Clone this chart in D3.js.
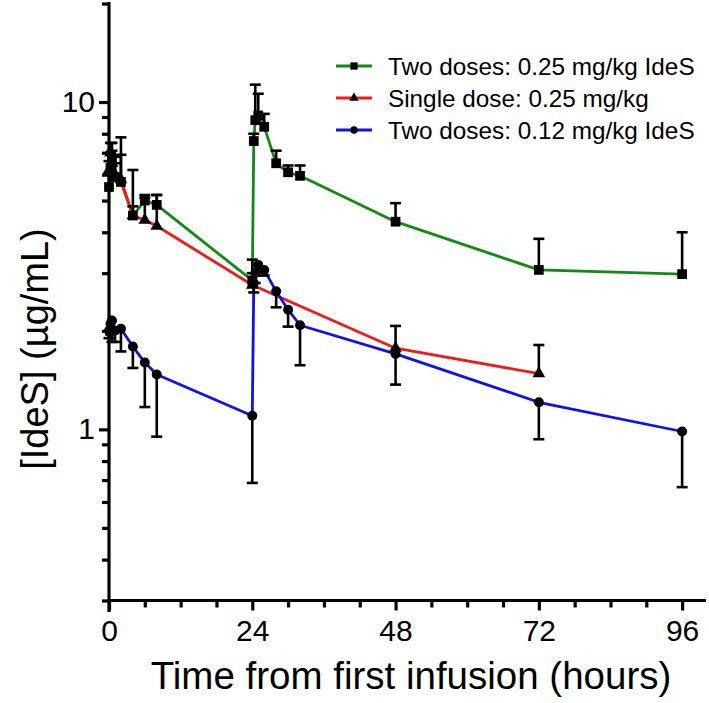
<!DOCTYPE html>
<html>
<head>
<meta charset="utf-8">
<script src="https://cdn.jsdelivr.net/npm/d3@7"></script>
<style>
  html, body { margin: 0; padding: 0; background: #fff; }
  svg { display: block; font-family: "Liberation Sans", Arial, Helvetica, sans-serif; }
</style>
</head>
<body>
<svg id="chart" width="709" height="703"></svg>
<script>
// ---- Data ----
const seriesNames = ["Two doses: 0.25 mg/kg IdeS", "Single dose: 0.25 mg/kg", "Two doses: 0.12 mg/kg IdeS"];
const seriesColors = ["#138a13", "#f01a1a", "#1010f0"];

const greenTimes = [0, 0.25, 0.5, 1, 2, 4, 6, 8, 24, 24.25, 24.5, 25, 26, 28, 30, 32, 48, 72, 96];
const greenValues = [5.5, 6.3, 6.7, 5.9, 5.7, 4.5, 5.0, 4.85, 2.85, 7.6, 8.8, 9.1, 8.4, 6.5, 6.1, 5.95, 4.31, 3.07, 2.98];
const greenErrEnd = [6.0, 7.0, 7.5, 6.8, 7.8, 6.2, 5.2, 5.2, 3.3, 8.0, 11.3, 10.6, 9.2, 7.1, 6.4, 6.4, 4.91, 3.82, 4.00];

const redTimes = [0, 0.25, 0.5, 1, 2, 4, 6, 8, 24, 48, 72];
const redValues = [6.2, 7.0, 6.5, 6.0, 5.8, 4.5, 4.36, 4.18, 2.76, 1.77, 1.48];
const redErrEnd = [6.6, 7.5, 7.1, 6.5, 6.9, 4.8, 5.1, 5.2, 3.0, 2.07, 1.81];

const blueTimes = [0, 0.25, 0.5, 1, 2, 4, 6, 8, 24, 24.25, 24.5, 25, 26, 28, 30, 32, 48, 72, 96];
const blueValues = [2.0, 2.1, 2.15, 2.0, 2.03, 1.79, 1.60, 1.47, 1.10, 2.8, 3.0, 3.18, 3.07, 2.64, 2.32, 2.08, 1.70, 1.21, 0.985];
const blueErrEnd = [1.9, 1.95, 1.85, 1.85, 1.73, 1.54, 1.17, 0.95, 0.686, 2.62, 2.8, 3.0, 2.95, 2.36, 2.06, 1.57, 1.37, 0.933, 0.666];

const xTickValues = [0, 24, 48, 72, 96];
const xMinorTicks = [6, 12, 18, 30, 36, 42, 54, 60, 66, 78, 84, 90];
const yTickValues = [1, 10];
const yMinorTicks = [0.3, 0.4, 0.5, 0.6, 0.7, 0.8, 0.9, 2, 3, 4, 5, 6, 7, 8, 9, 20];

const xTitle = "Time from first infusion (hours)";
const yTitle = "[IdeS] (µg/mL)";

// ---- Layout ----
const svg = d3.select("#chart");
const x = d3.scaleLinear().domain([0, 100]).range([109, 706]);
const y = d3.scaleLog().domain([0.3, 20]).range([600.5, 3.5]);

const series = [
  { name: seriesNames[0], color: seriesColors[0], t: greenTimes, v: greenValues, e: greenErrEnd, shape: d3.symbolSquare, size: 95 },
  { name: seriesNames[1], color: seriesColors[1], t: redTimes, v: redValues, e: redErrEnd, shape: d3.symbolTriangle, size: 70 },
  { name: seriesNames[2], color: seriesColors[2], t: blueTimes, v: blueValues, e: blueErrEnd, shape: d3.symbolCircle, size: 78 }
];

// ---- Axes ----
const axisG = svg.append("g");
const gx = axisG.append("g").attr("transform", "translate(0,600.5)")
  .call(d3.axisBottom(x).tickValues(xTickValues).tickSize(10).tickPadding(8).tickFormat(d3.format("d")));
gx.select(".domain").remove();
gx.append("line").attr("x1", x(0) - 1.5).attr("x2", x(100)).attr("y1", 0).attr("y2", 0)
  .attr("stroke", "#000").attr("stroke-width", 3.2);
gx.selectAll(".tick line").attr("stroke", "#000").attr("stroke-width", 3.2);
gx.selectAll(".tick text").attr("font-size", 30).attr("fill", "#000").attr("dy", "0.75em");
const gxm = axisG.append("g").attr("transform", "translate(0,600.5)")
  .call(d3.axisBottom(x).tickValues(xMinorTicks).tickSize(7).tickFormat(""));
gxm.select(".domain").remove();
gxm.selectAll(".tick line").attr("stroke", "#000").attr("stroke-width", 3.2);

const gy = axisG.append("g").attr("transform", "translate(109,0)")
  .call(d3.axisLeft(y).tickValues(yTickValues).tickSize(10).tickPadding(4).tickFormat(d3.format("d")));
gy.select(".domain").remove();
gy.append("line").attr("x1", 0).attr("x2", 0).attr("y1", y(20) - 1.5).attr("y2", 612)
  .attr("stroke", "#000").attr("stroke-width", 3.2);
gy.selectAll(".tick line").attr("stroke", "#000").attr("stroke-width", 3.2);
gy.selectAll(".tick text").attr("font-size", 30).attr("fill", "#000");
const gym = axisG.append("g").attr("transform", "translate(109,0)")
  .call(d3.axisLeft(y).tickValues(yMinorTicks).tickSize(7).tickFormat(""));
gym.select(".domain").remove();
gym.selectAll(".tick line").attr("stroke", "#000").attr("stroke-width", 3.2);

// Axis titles
svg.append("text").attr("x", 411).attr("y", 689).attr("text-anchor", "middle")
  .attr("font-size", 38.5).attr("fill", "#000").text(xTitle);
svg.append("text").attr("transform", "translate(48,349) rotate(-90)").attr("text-anchor", "middle")
  .attr("font-size", 38).attr("fill", "#000").text(yTitle);

// ---- Series ----
const line = d3.line().x(d => x(d[0])).y(d => y(d[1]));
const plot = svg.append("g");

series.forEach(s => {
  const pts = s.t.map((t, i) => [t, s.v[i], s.e[i]]);
  plot.append("path").datum(pts).attr("d", line)
    .attr("fill", "none").attr("stroke", s.color).attr("stroke-width", 2.8).attr("stroke-linejoin", "round");
});

series.forEach(s => {
  const pts = s.t.map((t, i) => [t, s.v[i], s.e[i]]);
  const g = plot.append("g");
  const eb = g.selectAll(".eb").data(pts).enter().append("g");
  eb.append("line").attr("x1", d => x(d[0])).attr("x2", d => x(d[0]))
    .attr("y1", d => y(d[1])).attr("y2", d => y(d[2])).attr("stroke", "#000").attr("stroke-width", 2.6);
  eb.append("line").attr("x1", d => x(d[0]) - 5.5).attr("x2", d => x(d[0]) + 5.5)
    .attr("y1", d => y(d[2])).attr("y2", d => y(d[2])).attr("stroke", "#000").attr("stroke-width", 2.6);
  g.selectAll(".mk").data(pts).enter().append("path")
    .attr("transform", d => `translate(${x(d[0])},${y(d[1])})`)
    .attr("d", d3.symbol().type(s.shape).size(s.size))
    .attr("fill", "#000");
});

// ---- Legend ----
const legend = svg.append("g");
const legendY = [66, 98, 130];
series.forEach((s, i) => {
  const ly = legendY[i];
  legend.append("line").attr("x1", 336).attr("x2", 372).attr("y1", ly).attr("y2", ly)
    .attr("stroke", s.color).attr("stroke-width", 2.8);
  legend.append("path").attr("transform", `translate(354,${ly})`)
    .attr("d", d3.symbol().type(s.shape).size(s.size * 0.55)).attr("fill", "#000");
  legend.append("text").attr("x", 388).attr("y", ly).attr("dy", "0.35em")
    .attr("font-size", 24.3).attr("fill", "#000").text(s.name);
});
</script>
</body>
</html>
